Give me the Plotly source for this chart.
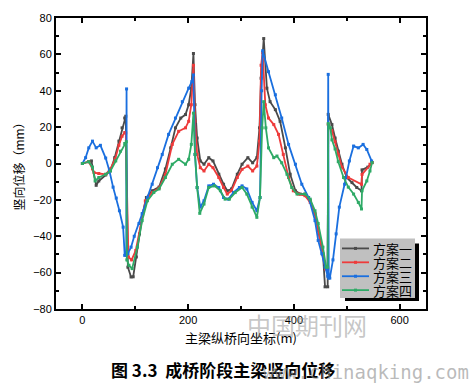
import plotly.graph_objects as go

# ---------------- data ----------------
series_names = ["方案一", "方案二", "方案三", "方案四"]
series_colors = ["#4a4a4a", "#ee3b3b", "#1a6fdf", "#2eaa66"]

x_s1 = [0, 12, 17, 26, 31, 44, 53, 61, 69, 75, 80, 82, 86, 92, 96, 102, 108, 114, 121, 132, 145,
        157, 167, 176, 186, 195, 201, 206, 210, 213, 217, 223, 230, 239, 247, 258, 267, 274, 282, 293,
        302, 313, 322, 330, 335, 338, 343, 349, 355, 365, 374, 384, 393, 403, 412, 421, 431, 440,
        446, 455, 459, 464, 465, 472, 478, 484, 491, 500, 510, 519, 528, 529, 540, 548]
y_s1 = [0, 1, 1.4, -12, -9.6, -6.3, -4, 3.2, 12.3, 19.6, 25, 26, -57, -62.4, -62.3, -51.4, -38.7, -27.7,
        -18.7, -15, -13, -3, 8.6, 19.6, 25, 26.9, 32.3, 41.4, 60.5, 32.3, 14, 1.4, -0.4, 3.2, 1.4,
        -5.9, -11.4, -15, -14, -5.9, -0.4, 3.2, 0.4, 3.2, 19.6, 46.9, 68.7, 41.4, 34, 29.6, 23.2, 8.6,
        -5.9, -15, -16.8, -16.8, -20.5, -27.7, -36, -49.6, -67.8, -67.8, 27, 21.4, 14, 6.8, -0.4,
        -7.7, -10.5, -13.2, -15, -3.5, -2, 0.5]

x_s2 = [0, 12, 19, 22, 31, 44, 53, 62, 69, 75, 80, 82, 87, 93, 101, 110, 119, 132, 145, 157, 170,
        182, 195, 201, 206, 210, 213, 217, 223, 230, 239, 247, 258, 267, 274, 282, 293, 302, 313, 322,
        330, 335, 338, 341, 346, 352, 362, 371, 380, 390, 399, 409, 421, 431, 440, 446, 455, 460, 464,
        465, 472, 478, 484, 491, 503, 528, 529, 544, 548]
y_s2 = [0, 1, -3, -5, -5.5, -6, -3, 2.5, 10, 15, 17, 16.8, -51.4, -53, -47.8, -33, -20.5, -16, -13.5,
        -6, 10.5, 17.7, 19.6, 23.2, 32.3, 54, 23.2, 5, -2.3, -4.1, -0.4, -2.3, -7.7, -13.2, -16.8, -15,
        -7.7, -3.2, -1.4, -4.1, -1.4, 12.3, 54, 61, 32.3, 25, 21.4, 16, 5, -7.7, -15, -16.8, -17.7,
        -21.4, -27.7, -37, -50, -58, -58, 21.4, 18, 12, 5, -2, -7.7, -11.4, -6, -0.4, 0.5]

x_s3 = [0, 6, 12, 19, 26, 34, 44, 51, 58, 64, 70, 77, 80, 83, 83.5, 84, 86, 92, 98, 107, 113, 123,
        132, 142, 151, 163, 176, 189, 201, 207, 210, 213, 217, 223, 230, 239, 248, 258, 267, 276, 286,
        297, 302, 311, 321, 330, 336, 339, 341, 352, 365, 377, 390, 403, 415, 428, 440, 446, 453, 459,
        464, 465, 466, 468, 474, 480, 486, 496, 505, 513, 522, 531, 538, 547]
y_s3 = [0, 3.2, 8.6, 12.3, 8.6, 10, 3, -4, -13, -19, -26, -35, -50.5, -50.5, 41, -50, -49.5, -46,
        -40, -33, -27.6, -18.7, -11.4, -2.3, 5, 16, 25, 34, 41.4, 45, 48.7, 5, -13.2, -24, -20.5,
        -12.3, -11.4, -13.2, -18.7, -19.6, -15.9, -13.2, -12.3, -14, -21.4, -26, -18.7, 40, 62, 50.5,
        37.8, 25, 10.5, -0.4, -11.4, -18.7, -31.4, -42.3, -49.6, -57, -62, 49, -63, -63, -53, -38.7,
        -24, -11.4, 1.4, 9.6, 8.6, 10.5, 7.7, 1.4]

x_s4 = [0, 12, 19, 24, 31, 44, 53, 63, 72, 80, 83, 84, 88, 94, 104, 113, 123, 135, 145, 157, 170,
        182, 195, 201, 206, 210, 213, 217, 222, 230, 239, 250, 261, 270, 278, 289, 302, 311, 321, 330,
        336, 340, 343, 347, 352, 362, 368, 377, 387, 396, 406, 421, 431, 440, 446, 455, 461, 464, 465,
        469, 472, 478, 484, 494, 503, 513, 522, 528, 529, 538, 544, 548]
y_s4 = [0, 1, -2, -9.6, -7.7, -5.9, -4.1, 1.4, 6.8, 11, 12, -53, -56, -57.8, -46, -31.4, -20.5,
        -15.9, -14, -7.7, -0.4, 2.3, -0.4, 2.3, 10.5, 27.7, 5, -13.2, -27.4, -22.3, -13.2, -12.3, -15,
        -19.6, -19.6, -16, -13.2, -16.8, -24, -29.6, -18.7, 19.6, 34, 19.6, 8.6, 3.2, 4.1, 0.4, -5.9,
        -13.2, -16.8, -16.8, -19.6, -26, -33, -46, -57, -57, 22, 19.6, 13, 8, 1, -7.7, -13, -16.8,
        -21.4, -25, -15, -9.6, -4.1, 0.5]

x_values = [x_s1, x_s2, x_s3, x_s4]
y_values = [y_s1, y_s2, y_s3, y_s4]

x_ticks = [0, 200, 400, 600]
y_ticks = [-80, -60, -40, -20, 0, 20, 40, 60, 80]

x_title = "主梁纵桥向坐标(m)"
y_title = "竖向位移（mm）"
caption = "图 3.3  成桥阶段主梁竖向位移"
watermark_cn = "中国期刊网"
watermark_url = "www.chinaqking.com"

# ---------------- figure ----------------
W, H = 472, 384
L, R, T, B = 56, 46, 16, 75
PW, PH = W - L - R, H - T - B

def px(xp):
    return (xp - L) / PW

def py(yp):
    return (H - B - yp) / PH

fig = go.Figure()
for name, col, xs, ys in zip(series_names, series_colors, x_values, y_values):
    fig.add_trace(go.Scatter(
        x=xs, y=ys, name=name, mode="lines+markers",
        line=dict(color=col, width=1.8),
        marker=dict(color=col, size=3, symbol="square"),
        showlegend=False,
    ))

cjk = "Noto Sans CJK SC"
num_font = "Liberation Sans"

axis_common = dict(
    showgrid=False, zeroline=False,
    showline=True, linecolor="black", linewidth=2, mirror="ticks",
    ticks="inside", ticklen=5, tickwidth=1.5, tickcolor="black",
    tickfont=dict(family=num_font, size=11, color="black"),
)

fig.update_xaxes(range=[-50, 650], tickvals=x_ticks,
                 minor=dict(dtick=100, tick0=0, ticks="inside", ticklen=3, tickwidth=1.5, tickcolor="black"),
                 title=dict(text=x_title, font=dict(family=cjk, size=13, color="black"), standoff=9),
                 **axis_common)
fig.update_yaxes(range=[-80, 80], tickvals=y_ticks,
                 minor=dict(dtick=10, tick0=0, ticks="inside", ticklen=3, tickwidth=1.5, tickcolor="black"),
                 title=dict(text=y_title, font=dict(family=cjk, size=12, color="black"), standoff=6),
                 **axis_common)

# manual legend (shadowed grey box)
shapes = [
    dict(type="rect", xref="paper", yref="paper", x0=px(345), x1=px(419), y0=py(301), y1=py(243),
         fillcolor="black", line=dict(width=0), layer="above"),
    dict(type="rect", xref="paper", yref="paper", x0=px(340), x1=px(415), y0=py(298), y1=py(238),
         fillcolor="#c0c0c0", line=dict(width=0), layer="above"),
]
annotations = []
entry_y = [248, 262, 276, 290]
for name, col, ey in zip(series_names, series_colors, entry_y):
    shapes.append(dict(type="line", xref="paper", yref="paper", x0=px(342), x1=px(369),
                       y0=py(ey), y1=py(ey), line=dict(color=col, width=1.8), layer="above"))
    shapes.append(dict(type="rect", xref="paper", yref="paper", x0=px(354), x1=px(357),
                       y0=py(ey + 1.5), y1=py(ey - 1.5), fillcolor=col, line=dict(width=0), layer="above"))
    annotations.append(dict(text=name, xref="paper", yref="paper", x=px(371), y=py(ey),
                            xanchor="left", yanchor="middle", showarrow=False,
                            font=dict(family=cjk, size=13, color="black")))

annotations += [
    dict(text=caption, xref="paper", yref="paper", x=px(223), y=py(370), xanchor="center",
         yanchor="middle", showarrow=False, font=dict(family=cjk, size=17, color="black", weight="bold")),
    dict(text=watermark_cn, xref="paper", yref="paper", x=px(307), y=py(325), xanchor="center",
         yanchor="middle", showarrow=False, font=dict(family=cjk, size=24, color="rgba(150,150,150,0.55)")),
    dict(text=watermark_url, xref="paper", yref="paper", x=px(471), y=py(372), xanchor="right",
         yanchor="middle", showarrow=False,
         font=dict(family="DejaVu Sans Mono", size=19, color="rgba(140,140,140,0.6)")),
]

fig.update_layout(
    width=W, height=H,
    margin=dict(l=L, r=R, t=T, b=B, pad=0),
    paper_bgcolor="white", plot_bgcolor="white",
    shapes=shapes, annotations=annotations,
    showlegend=False,
)

fig.write_html(
    "out.html",
    config={"displayModeBar": False},
    post_script="document.body.style.margin='0';document.body.style.overflow='hidden';",
)
